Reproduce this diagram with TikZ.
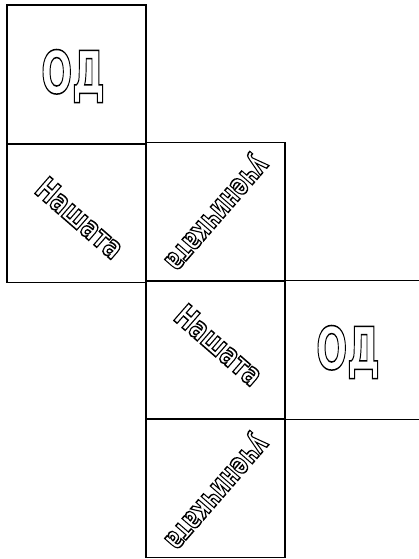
\documentclass[tikz,border=0pt]{standalone}
\usepackage{fontspec}
\setmainfont{DejaVu Sans}
\usepackage{graphicx}
\newcommand{\outl}[2]{\scalebox{#1}[1]{\special{pdf:literal direct 1 Tr 1.5 w}#2\special{pdf:literal direct 0 Tr}}}
\begin{document}
\begin{tikzpicture}[x=1pt,y=-1pt,
  sq/.style={draw=black,line width=1.2pt,minimum width=139pt,minimum height=139pt,inner sep=0pt},
  bigt/.style={inner sep=0pt,font=\bfseries\fontsize{59}{59}\selectfont},
  midt/.style={inner sep=0pt,font=\bfseries\fontsize{31}{31}\selectfont}]
\useasboundingbox (0,0) rectangle (418,559);
\node[sq] (A) at (76.5,74.5) {};
\node[sq] (B) at (76.5,213) {};
\node[sq] (C) at (215.5,212) {};
\node[sq] (D) at (215.5,350) {};
\node[sq] (E) at (354.5,350) {};
\node[sq] (F) at (215.5,488) {};
\node[bigt] (tA) at (73,76) {\outl{0.62}{ОД}};
\node[bigt] (tE) at (348,352) {\outl{0.62}{ОД}};
\node[midt,rotate=-41] (tB) at (80,218) {\outl{0.75}{Нашата}};
\node[midt,rotate=-41] (tD) at (219,345) {\outl{0.75}{Нашата}};
\node[midt,rotate=229] (tC) at (214,211) {\outl{0.68}{ученичката}};
\node[midt,rotate=229] (tF) at (214,490) {\outl{0.68}{ученичката}};
\end{tikzpicture}
\end{document}
